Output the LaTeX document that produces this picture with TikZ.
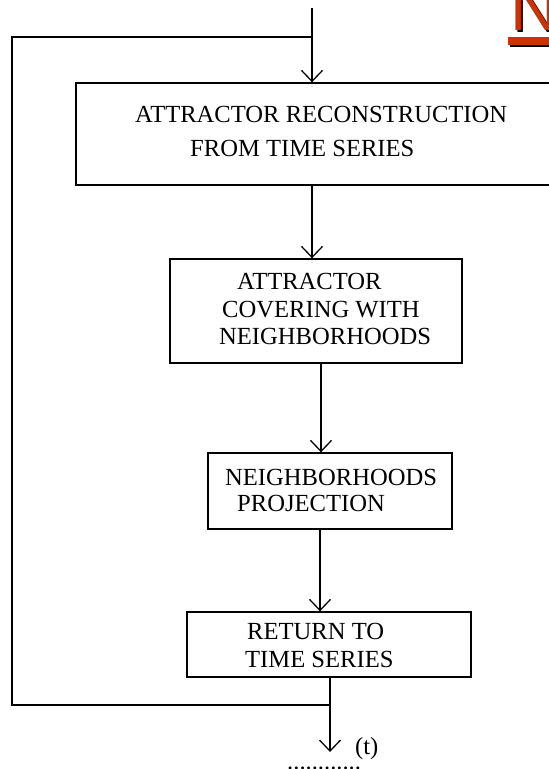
\documentclass[tikz,border=0pt]{standalone}
\usepackage{fontspec}
\setmainfont{Liberation Serif}
\newfontfamily\titlefont{Liberation Sans}
\usetikzlibrary{arrows.meta}
\definecolor{titlered}{RGB}{204,51,0}
\tikzset{
  box/.style={draw, line width=1.4pt, inner sep=0pt},
  line/.style={line width=1.3pt},
  flow/.style={line width=1.3pt, -{Straight Barb[length=11pt,width=21pt]}},
  txt/.style={inner sep=0pt, anchor=base west, font=\fontsize{24.6}{28}\selectfont},
  big/.style={inner sep=0pt, anchor=base west, font=\titlefont\fontsize{66}{66}\selectfont},
}
\begin{document}
\begin{tikzpicture}[x=1pt,y=-1pt]
\useasboundingbox (0,0) rectangle (549,769);
% title letter, cut by the page edge
\node[big, text=black] (Nshadow) at (512,32) {N};
\node[big, text=titlered] (N) at (510,30) {N};
\fill[black] (510,39) rectangle (560,47);
\fill[titlered] (508,37) rectangle (558,45);
% boxes
\node[box, minimum width=478pt, minimum height=102pt] (recon) at (315,134) {};
\node[box, minimum width=292pt, minimum height=104pt] (cover) at (316,311) {};
\node[box, minimum width=244pt, minimum height=76pt] (proj) at (330,491) {};
\node[box, minimum width=284pt, minimum height=65pt] (back) at (329,644.5) {};
\node[txt] (r1) at (135,122) {ATTRACTOR RECONSTRUCTION};
\node[txt] (r2) at (190,156) {FROM TIME SERIES};
\node[txt] (c1) at (237,289) {ATTRACTOR};
\node[txt] (c2) at (222,317) {COVERING WITH};
\node[txt] (c3) at (219,344) {NEIGHBORHOODS};
\node[txt] (p1) at (225,485) {NEIGHBORHOODS};
\node[txt] (p2) at (237,511) {PROJECTION};
\node[txt] (b1) at (247,639) {RETURN TO};
\node[txt] (b2) at (245,667) {TIME SERIES};
\node[txt] (t) at (355,754) {(t)};
\node[txt] (dots) at (287,769.5) {............};
% flow
\coordinate (in) at (312,8);
\coordinate (out) at (330,752);
\coordinate (loopT) at (12,37);
\coordinate (loopB) at (12,705);
\draw[flow] (in) -- (in |- recon.north);
\draw[flow] (in |- recon.south) -- (in |- cover.north);
\draw[flow] ([xshift=5pt]cover.south) -- ([xshift=5pt]cover.south |- proj.north);
\draw[flow] ([xshift=-10pt]proj.south) -- ([xshift=-10pt]proj.south |- back.north);
\draw[flow] (back.south -| out) -- (out);
\draw[line] (loopT -| in) -- (loopT) -- (loopB) -- (loopB -| out);
\end{tikzpicture}
\end{document}
